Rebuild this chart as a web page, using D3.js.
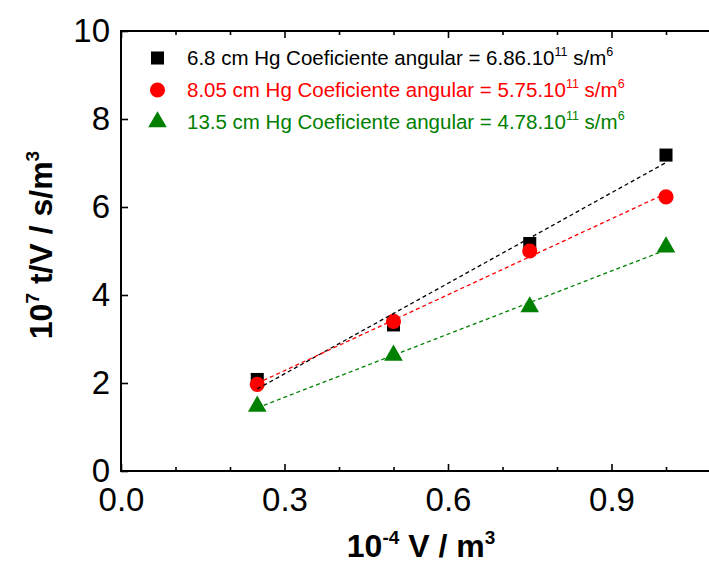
<!DOCTYPE html>
<html>
<head>
<meta charset="utf-8">
<script src="https://cdn.jsdelivr.net/npm/d3@7"></script>
<style>
body { margin: 0; background: #fff; }
text { font-family: "Liberation Sans", Arial, sans-serif; }
</style>
</head>
<body>
<div id="chart"></div>
<script>
// data
var xValues      = [0.25, 0.5, 0.75, 1.0];
var seriesNames  = ["6.8 cm Hg", "8.05 cm Hg", "13.5 cm Hg"];
var slopeLabels  = ["6.86", "5.75", "4.78"];
var blackValues  = [2.08, 3.32, 5.17, 7.18];
var redValues    = [1.97, 3.40, 5.00, 6.23];
var greenValues  = [1.47, 2.63, 3.73, 5.09];
var xTicks       = [0, 0.3, 0.6, 0.9];
var xMinorTicks  = [0.1, 0.2, 0.4, 0.5, 0.7, 0.8, 1.0];
var yTicks       = [0, 2, 4, 6, 8, 10];

var chart_width  = 709;
var chart_height = 566;

var colors  = ["#000000", "#ff0000", "#008000"];
var symbols = [d3.symbolSquare, d3.symbolCircle, d3.symbolTriangle];
var sizes   = [170, 180, 150];
var allSeries = [blackValues, redValues, greenValues];

var x = d3.scaleLinear().domain([0, 1.1]).range([121, 720.5]);
var y = d3.scaleLinear().domain([0, 10]).range([471, 31]);

var svg = d3.select("#chart")
    .append("svg")
    .attr("width", chart_width)
    .attr("height", chart_height);

// axes (ticks pointing inward)
svg.append("g")
    .attr("transform", "translate(0," + y(0) + ")")
    .call(d3.axisBottom(x).tickValues(xTicks).tickSizeInner(-7).tickSizeOuter(0)
        .tickPadding(17).tickFormat(d3.format(".1f")));
svg.append("g")
    .attr("transform", "translate(0," + y(0) + ")")
    .call(d3.axisBottom(x).tickValues(xMinorTicks).tickSizeInner(-4).tickSizeOuter(0).tickFormat(""));
svg.append("g")
    .attr("transform", "translate(0," + y(10) + ")")
    .call(d3.axisTop(x).tickValues(xTicks).tickSizeInner(-7).tickSizeOuter(0).tickFormat(""));
svg.append("g")
    .attr("transform", "translate(0," + y(10) + ")")
    .call(d3.axisTop(x).tickValues(xMinorTicks).tickSizeInner(-4).tickSizeOuter(0).tickFormat(""));
svg.append("g")
    .attr("transform", "translate(" + x(0) + ",0)")
    .call(d3.axisLeft(y).tickValues(yTicks).tickSizeInner(-7).tickSizeOuter(0).tickPadding(11));

svg.selectAll(".domain").remove();
svg.selectAll(".tick line").attr("stroke", "#000").attr("stroke-width", 1.6);
svg.selectAll(".tick text")
    .attr("font-size", 33)
    .attr("fill", "#000")
    .style("font-family", "'Liberation Sans', Arial, sans-serif");

// frame
svg.append("rect")
    .attr("x", x(0)).attr("y", y(10))
    .attr("width", x(1.1) - x(0)).attr("height", y(0) - y(10))
    .attr("fill", "none").attr("stroke", "#000").attr("stroke-width", 2);

// markers
allSeries.forEach(function(vals, i) {
    svg.append("g").selectAll("path")
        .data(vals)
        .enter()
        .append("path")
        .attr("transform", function(d, j) { return "translate(" + x(xValues[j]) + "," + y(d) + ")"; })
        .attr("d", d3.symbol().type(symbols[i]).size(sizes[i]))
        .attr("fill", colors[i]);
});

// linear fits, drawn over the markers
function linearFit(xs, ys) {
    var mx = d3.mean(xs), my = d3.mean(ys);
    var num = 0, den = 0;
    for (var k = 0; k < xs.length; k++) {
        num += (xs[k] - mx) * (ys[k] - my);
        den += (xs[k] - mx) * (xs[k] - mx);
    }
    var b = num / den;
    return function(v) { return my + b * (v - mx); };
}
allSeries.forEach(function(vals, i) {
    var f = linearFit(xValues, vals);
    var ends = [d3.min(xValues), d3.max(xValues)];
    svg.append("path")
        .datum(ends)
        .attr("d", d3.line().x(function(d) { return x(d); }).y(function(d) { return y(f(d)); }))
        .attr("fill", "none")
        .attr("stroke", colors[i])
        .attr("stroke-width", 1.3)
        .attr("stroke-dasharray", "4,3");
});

// legend
seriesNames.forEach(function(name, i) {
    var cy = 58 + 32 * i;
    svg.append("path")
        .attr("transform", "translate(157.5," + cy + ")")
        .attr("d", d3.symbol().type(symbols[i]).size(sizes[i]))
        .attr("fill", colors[i]);
    var t = svg.append("text")
        .attr("x", 187).attr("y", cy + 7)
        .attr("font-size", 20.5)
        .attr("fill", colors[i]);
    t.append("tspan").text(name + " Coeficiente angular = " + slopeLabels[i] + ".10");
    t.append("tspan").attr("font-size", 12.5).attr("dy", -9).text("11");
    t.append("tspan").attr("dy", 9).text(" s/m");
    t.append("tspan").attr("font-size", 12.5).attr("dy", -9).text("6");
});

// axis titles
var xt = svg.append("text")
    .attr("x", 421).attr("y", 557)
    .attr("text-anchor", "middle")
    .attr("font-size", 32).attr("font-weight", "bold");
xt.append("tspan").text("10");
xt.append("tspan").attr("font-size", 19).attr("dy", -13).text("-4");
xt.append("tspan").attr("dy", 13).text(" V / m");
xt.append("tspan").attr("font-size", 19).attr("dy", -13).text("3");

var yt = svg.append("text")
    .attr("transform", "translate(52,245) rotate(-90)")
    .attr("text-anchor", "middle")
    .attr("font-size", 32).attr("font-weight", "bold");
yt.append("tspan").text("10");
yt.append("tspan").attr("font-size", 19).attr("dy", -13).text("7");
yt.append("tspan").attr("dy", 13).text(" t/V / s/m");
yt.append("tspan").attr("font-size", 19).attr("dy", -13).text("3");
</script>
</body>
</html>
